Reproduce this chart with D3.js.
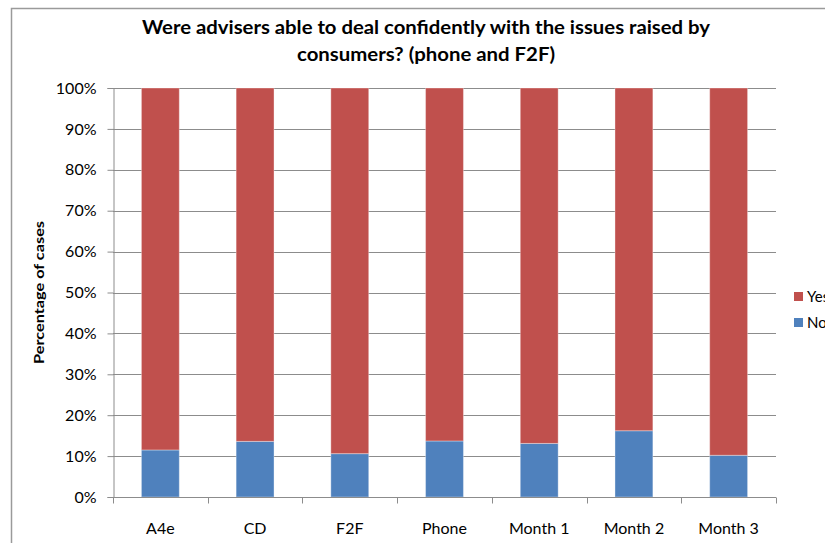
<!DOCTYPE html>
<html>
<head>
<meta charset="utf-8">
<script src="https://cdn.jsdelivr.net/npm/d3@7"></script>
<style>
  html, body { margin: 0; padding: 0; background: #fff; overflow: hidden; }
  svg { display: block; font-family: Lato, "Open Sans", sans-serif; }
</style>
</head>
<body>
<svg id="chart" width="825" height="543"></svg>
<script>
// Categories and stacked percentages (No at the bottom, Yes on top)
const categories = ["A4e", "CD", "F2F", "Phone", "Month 1", "Month 2", "Month 3"];
const noValues   = [11.5, 13.6, 10.6, 13.7, 13.1, 16.2, 10.2];
const yesValues  = [88.5, 86.4, 89.4, 86.3, 86.9, 83.8, 89.8];
const yTicks     = [0, 10, 20, 30, 40, 50, 60, 70, 80, 90, 100];
const seriesNames = ["Yes", "No"];
const titleLines = ["Were advisers able to deal confidently with the issues raised by",
                    "consumers? (phone and F2F)"];

const colors = { Yes: "#C0504D", No: "#4F81BD" };

const svg = d3.select("#chart");

// outer chart frame
svg.append("path")
  .attr("d", "M11.5,543 V8.5 H830")
  .attr("fill", "none")
  .attr("stroke", "#9a9a9a")
  .attr("stroke-width", 1.5);

const plot = { left: 113, right: 776, top: 88, bottom: 497 };

const x = d3.scaleBand()
  .domain(categories)
  .range([plot.left, plot.right])
  .paddingInner(0.6)
  .paddingOuter(0.3);

const xEdges = d3.scaleBand().domain(categories).range([plot.left, plot.right]);

const y = d3.scaleLinear().domain([0, 100]).range([plot.bottom, plot.top]);

// horizontal gridlines
svg.append("g")
  .selectAll("line")
  .data(yTicks)
  .join("line")
  .attr("x1", plot.left)
  .attr("x2", plot.right)
  .attr("y1", d => Math.round(y(d)) + 0.5)
  .attr("y2", d => Math.round(y(d)) + 0.5)
  .attr("stroke", "#8c8c8c")
  .attr("stroke-width", 1);

// stacked bars
const rows = categories.map((c, i) => ({ cat: c, No: noValues[i], Yes: yesValues[i] }));
const stack = d3.stack().keys(["No", "Yes"]);
const layers = stack(rows);

svg.append("g")
  .selectAll("g")
  .data(layers)
  .join("g")
  .attr("fill", d => colors[d.key])
  .selectAll("rect")
  .data(d => d)
  .join("rect")
  .attr("x", d => x(d.data.cat))
  .attr("width", x.bandwidth())
  .attr("y", d => y(d[1]))
  .attr("height", d => y(d[0]) - y(d[1]))
  .attr("stroke", "rgba(255,255,255,0.35)")
  .attr("stroke-width", 1);

// y axis
const yAxis = d3.axisLeft(y)
  .tickValues(yTicks)
  .tickFormat(d => d + "%")
  .tickSize(6)
  .tickPadding(11);

const yg = svg.append("g")
  .attr("transform", `translate(${plot.left + 0.5},0)`)
  .call(yAxis);
yg.select(".domain").attr("stroke", "#8c8c8c");
yg.selectAll(".tick line").attr("stroke", "#8c8c8c");
yg.selectAll(".tick text")
  .attr("font-size", 16)
  .attr("fill", "#000")
  .attr("font-family", "Lato, sans-serif");

// x axis with ticks at category boundaries
const xg = svg.append("g").attr("transform", `translate(0,${plot.bottom + 0.5})`);
xg.append("line")
  .attr("x1", plot.left).attr("x2", plot.right)
  .attr("stroke", "#8c8c8c");
const edges = categories.map(c => xEdges(c)).concat([plot.right]);
xg.selectAll("line.edge")
  .data(edges)
  .join("line")
  .attr("class", "edge")
  .attr("x1", d => Math.round(d) + 0.5)
  .attr("x2", d => Math.round(d) + 0.5)
  .attr("y1", 0).attr("y2", 6)
  .attr("stroke", "#8c8c8c");
xg.selectAll("text")
  .data(categories)
  .join("text")
  .attr("x", d => x(d) + x.bandwidth() / 2)
  .attr("y", 36)
  .attr("text-anchor", "middle")
  .attr("font-size", 16)
  .attr("fill", "#000")
  .text(d => d);

// y axis title
svg.append("text")
  .attr("transform", `translate(44,${(plot.top + plot.bottom) / 2}) rotate(-90)`)
  .attr("text-anchor", "middle")
  .attr("font-weight", "bold")
  .attr("font-size", 14)
  .attr("textLength", 143)
  .attr("lengthAdjust", "spacingAndGlyphs")
  .text("Percentage of cases");

// chart title
const titleWidths = [568, 258];
svg.append("g")
  .selectAll("text")
  .data(titleLines)
  .join("text")
  .attr("x", 426)
  .attr("y", (d, i) => 34 + i * 27)
  .attr("text-anchor", "middle")
  .attr("font-weight", "bold")
  .attr("font-size", 19)
  .attr("textLength", (d, i) => titleWidths[i])
  .attr("lengthAdjust", "spacingAndGlyphs")
  .text(d => d);

// legend
const legend = svg.append("g")
  .selectAll("g")
  .data(seriesNames)
  .join("g")
  .attr("transform", (d, i) => `translate(794,${292 + i * 26})`);
legend.append("rect")
  .attr("width", 9).attr("height", 9)
  .attr("fill", d => colors[d]);
legend.append("text")
  .attr("x", 13)
  .attr("y", 10)
  .attr("font-size", 15)
  .attr("fill", "#000")
  .text(d => d);
</script>
</body>
</html>
